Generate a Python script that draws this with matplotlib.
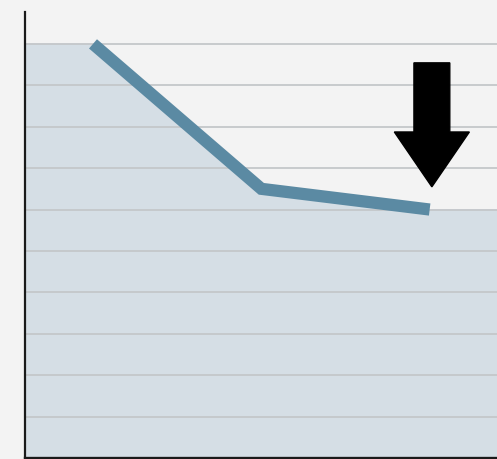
import matplotlib
matplotlib.use("Agg")
import matplotlib.pyplot as plt
from matplotlib.patches import Polygon

# data
steps = [0, 1, 2]
values = [10.0, 6.5, 6.0]
grid_levels = [1, 2, 3, 4, 5, 6, 7, 8, 9, 10]

bg = "#f3f3f3"
fill_col = "#d5dee5"
line_col = "#5b8aa3"

fig = plt.figure(figsize=(4.97, 4.60), dpi=100, facecolor=bg)
ax = fig.add_axes([25 / 497, 1 / 460, 472 / 497, 446 / 460])
ax.set_facecolor(bg)

xmin, xmax = -0.404, 2.40
ax.set_xlim(xmin, xmax)
ax.set_ylim(0, 10.77)

# area under the line, carried flat out to both edges
fx = [xmin] + steps + [xmax]
fy = [values[0]] + values + [values[-1]]
ax.fill_between(fx, fy, 0, color=fill_col, zorder=1)

for g in grid_levels:
    ax.axhline(g, color="#c4c7ca", lw=1.3, zorder=2)

ax.plot(steps, values, color=line_col, lw=8.8, solid_capstyle="butt",
        solid_joinstyle="miter", zorder=3)

# big down arrow
cx, sw, hw = 0.862, 0.038, 0.0795
tip, head, top = 0.608, 0.731, 0.886
arrow = Polygon([(cx - sw, top), (cx + sw, top), (cx + sw, head), (cx + hw, head),
                 (cx, tip), (cx - hw, head), (cx - sw, head)],
                closed=True, transform=ax.transAxes, color="black", zorder=4)
ax.add_patch(arrow)

for s in ["top", "right"]:
    ax.spines[s].set_visible(False)
ax.spines["left"].set_linewidth(1.6)
ax.spines["bottom"].set_linewidth(2.4)
ax.spines["left"].set_color("#1a1a1a")
ax.spines["bottom"].set_color("#1a1a1a")
ax.set_xticks([])
ax.set_yticks([])

fig.savefig("out.png", dpi=100, facecolor=bg)
